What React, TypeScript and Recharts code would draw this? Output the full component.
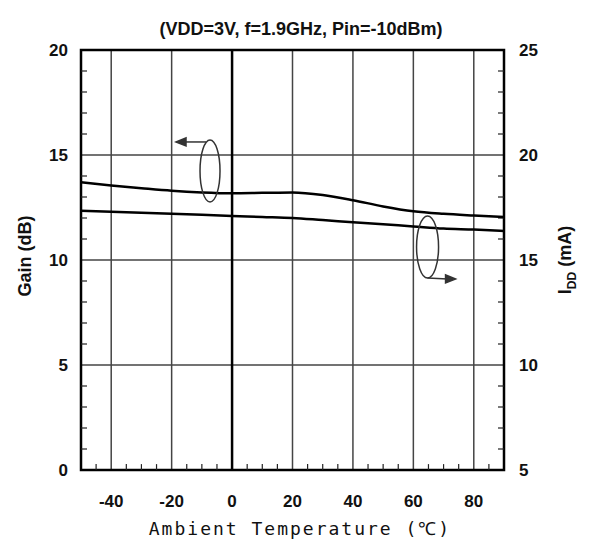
import { LineChart, Line, XAxis, YAxis, CartesianGrid, ReferenceLine, ReferenceDot, ReferenceArea } from 'recharts';

// ambient temperature (°C)
const temps = [-50, -40, -30, -20, -10, 0, 10, 20, 30, 40, 50, 60, 70, 80, 90];
// gain (dB), left axis
const gain = [13.7, 13.55, 13.42, 13.3, 13.22, 13.18, 13.2, 13.22, 13.1, 12.85, 12.55, 12.32, 12.2, 12.12, 12.05];
// IDD (mA), right axis
const idd = [17.35, 17.3, 17.25, 17.2, 17.15, 17.1, 17.05, 17.0, 16.9, 16.8, 16.7, 16.6, 16.5, 16.45, 16.38];

const xTicks = [-40, -20, 0, 20, 40, 60, 80];
const gainTicks = [0, 5, 10, 15, 20];
const iddTicks = [5, 10, 15, 20, 25];
const xMinor = [-45, -35, -30, -25, -15, -10, -5, 5, 10, 15, 25, 30, 35, 45, 50, 55, 65, 70, 75, 85];
const gainMinor = [1, 2, 3, 4, 6, 7, 8, 9, 11, 12, 13, 14, 16, 17, 18, 19];
const iddMinor = [6, 7, 8, 9, 11, 12, 13, 14, 16, 17, 18, 19, 21, 22, 23, 24];

const data = temps.map((t, i) => ({ t, gain: gain[i], idd: idd[i] }));

const tickFont = { fontFamily: 'Liberation Sans, Arial, sans-serif', fontWeight: 700, fontSize: 17, fill: '#111' };

const XTick = ({ x, y, payload }: any) => (
  <text x={x} y={y + 35} textAnchor="middle" {...tickFont}>{payload.value}</text>
);
const LeftTick = ({ x, y, payload }: any) => (
  <text x={x - 11} y={y + 6} textAnchor="end" {...tickFont}>{payload.value}</text>
);
const RightTick = ({ x, y, payload }: any) => (
  <text x={x + 13} y={y + 6} textAnchor="start" {...tickFont}>{payload.value}</text>
);

const LeftMarker = ({ cx, cy }: any) => (
  <g stroke="#333" strokeWidth={1.5} fill="none">
    <ellipse cx={cx} cy={cy} rx={10} ry={31} />
    <line x1={cx - 4} y1={cy - 29} x2={cx - 26} y2={cy - 29} />
    <path d={`M${cx - 34},${cy - 29} L${cx - 24},${cy - 33} L${cx - 24},${cy - 25} Z`} fill="#333" />
  </g>
);
const RightMarker = ({ cx, cy }: any) => (
  <g stroke="#333" strokeWidth={1.5} fill="none">
    <ellipse cx={cx} cy={cy} rx={11} ry={31} />
    <line x1={cx} y1={cy + 31} x2={cx + 20} y2={cy + 32} />
    <path d={`M${cx + 28},${cy + 32} L${cx + 18},${cy + 28} L${cx + 18},${cy + 36} Z`} fill="#333" />
  </g>
);

export default function App() {
  return (
    <div style={{ position: 'relative', width: 591, height: 539, background: '#fff' }}>
      <style>{'body{margin:0}'}</style>
      <LineChart width={591} height={539} data={data} margin={{ top: 50, right: 0, bottom: 0, left: 0 }}>
        <CartesianGrid yAxisId="left" stroke="#444" strokeWidth={1.5} verticalPoints={undefined} />
        <XAxis
          dataKey="t"
          type="number"
          domain={[-50, 90]}
          ticks={xTicks}
          height={69}
          tickSize={0}
          tickLine={false}
          axisLine={false}
          tick={<XTick />}
        />
        <YAxis
          yAxisId="left"
          domain={[0, 20]}
          ticks={gainTicks}
          width={81}
          tickSize={0}
          tickLine={false}
          axisLine={false}
          tick={<LeftTick />}
        />
        <YAxis
          yAxisId="right"
          orientation="right"
          domain={[5, 25]}
          ticks={iddTicks}
          width={87}
          tickSize={0}
          tickLine={false}
          axisLine={false}
          tick={<RightTick />}
        />
        <ReferenceLine yAxisId="left" x={0} stroke="#000" strokeWidth={2.5} />
        {xMinor.map((v) => (
          <ReferenceLine key={'xm' + v} yAxisId="left" segment={[{ x: v, y: 0 }, { x: v, y: 0.28 }]} stroke="#222" strokeWidth={1.2} />
        ))}
        {gainMinor.map((v) => (
          <ReferenceLine key={'gm' + v} yAxisId="left" segment={[{ x: -50, y: v }, { x: -48, y: v }]} stroke="#222" strokeWidth={1.2} />
        ))}
        {iddMinor.map((v) => (
          <ReferenceLine key={'im' + v} yAxisId="right" segment={[{ x: 88, y: v }, { x: 90, y: v }]} stroke="#222" strokeWidth={1.2} />
        ))}
        <ReferenceArea yAxisId="left" x1={-50} x2={90} y1={0} y2={20} fill="none" stroke="#000" strokeWidth={2.5} />
        <Line yAxisId="left" dataKey="gain" stroke="#000" strokeWidth={2.5} dot={false} type="monotone" isAnimationActive={false} />
        <Line yAxisId="right" dataKey="idd" stroke="#000" strokeWidth={2.5} dot={false} type="monotone" isAnimationActive={false} />
        <ReferenceDot yAxisId="left" x={-7.3} y={14.24} shape={<LeftMarker />} />
        <ReferenceDot yAxisId="left" x={64.7} y={10.62} shape={<RightMarker />} />
      </LineChart>
      <svg width={591} height={539} style={{ position: 'absolute', left: 0, top: 0, pointerEvents: 'none' }}>
        <text x={301} y={35} textAnchor="middle" {...tickFont} fontSize={18}>(VDD=3V, f=1.9GHz, Pin=-10dBm)</text>
        <text x={300} y={535} textAnchor="middle" fontFamily="DejaVu Sans Mono, monospace" fontSize={18} letterSpacing={2} fill="#111">
          Ambient Temperature (℃)
        </text>
        <text x={31} y={256} transform="rotate(-90 31 256)" textAnchor="middle" {...tickFont} fontSize={18}>Gain (dB)</text>
        <text x={571} y={260} transform="rotate(-90 571 260)" textAnchor="middle" {...tickFont} fontSize={18}>
          I<tspan fontSize={12} dy={5}>DD</tspan><tspan dy={-5}> (mA)</tspan>
        </text>
      </svg>
    </div>
  );
}
